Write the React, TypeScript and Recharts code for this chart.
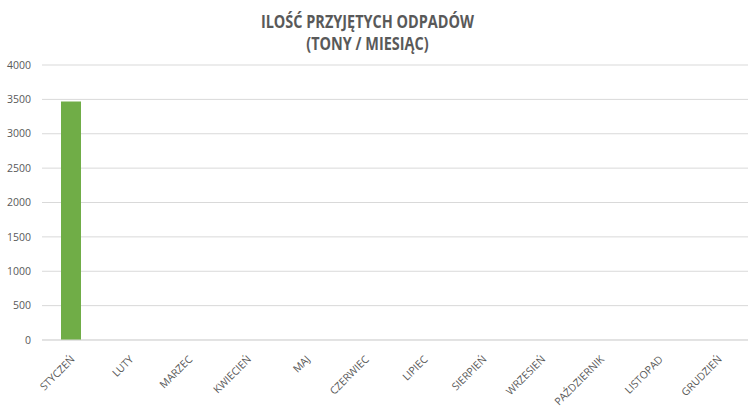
import { BarChart, Bar, XAxis, YAxis, CartesianGrid } from 'recharts'

const MONTHS = [
  'STYCZEŃ', 'LUTY', 'MARZEC', 'KWIECIEŃ', 'MAJ', 'CZERWIEC',
  'LIPIEC', 'SIERPIEŃ', 'WRZESIEŃ', 'PAŹDZIERNIK', 'LISTOPAD', 'GRUDZIEŃ',
]
const TONS = [3470, 0, 0, 0, 0, 0, 0, 0, 0, 0, 0, 0]
const Y_TICKS = [0, 500, 1000, 1500, 2000, 2500, 3000, 3500, 4000]
const TITLE = ['ILOŚĆ PRZYJĘTYCH ODPADÓW', '(TONY / MIESIĄC)']

const data = MONTHS.map((m, i) => ({ name: m, value: TONS[i] }))

const FONT = '"Open Sans", sans-serif'
const GREY = '#595959'

function MonthTick({ x, y, payload }: any) {
  return (
    <text
      transform={`translate(${x + 4},${y + 12}) rotate(-45)`}
      textAnchor="end"
      fontSize={10.5}
      fontFamily={FONT}
      fill={GREY}
    >
      {payload.value}
    </text>
  )
}

export default function App() {
  return (
    <div style={{ position: 'absolute', left: 0, top: 0, width: 751, height: 406, background: '#fff' }}>
      <div
        style={{
          position: 'absolute',
          top: 11,
          left: -8,
          width: 751,
          textAlign: 'center',
          fontFamily: FONT,
          fontWeight: 700,
          fontSize: 17,
          lineHeight: '22px',
          color: GREY,
          transform: 'scaleX(0.85)',
          transformOrigin: '375px 0',
        }}
      >
        {TITLE.map((t) => (
          <div key={t}>{t}</div>
        ))}
      </div>
      <BarChart
        width={751}
        height={406}
        data={data}
        margin={{ top: 65, right: 3, bottom: 0, left: 0 }}
      >
        <CartesianGrid vertical={false} stroke="#d9d9d9" />
        <XAxis
          dataKey="name"
          interval={0}
          height={66}
          tickLine={false}
          axisLine={{ stroke: '#d9d9d9' }}
          tick={<MonthTick />}
        />
        <YAxis
          width={42}
          domain={[0, 4000]}
          ticks={Y_TICKS}
          axisLine={false}
          tickLine={false}
          tickMargin={5}
          tick={{ fontSize: 10.5, fontFamily: FONT, fill: GREY }}
        />
        <Bar dataKey="value" fill="#70ad47" barSize={20} isAnimationActive={false} />
      </BarChart>
    </div>
  )
}
